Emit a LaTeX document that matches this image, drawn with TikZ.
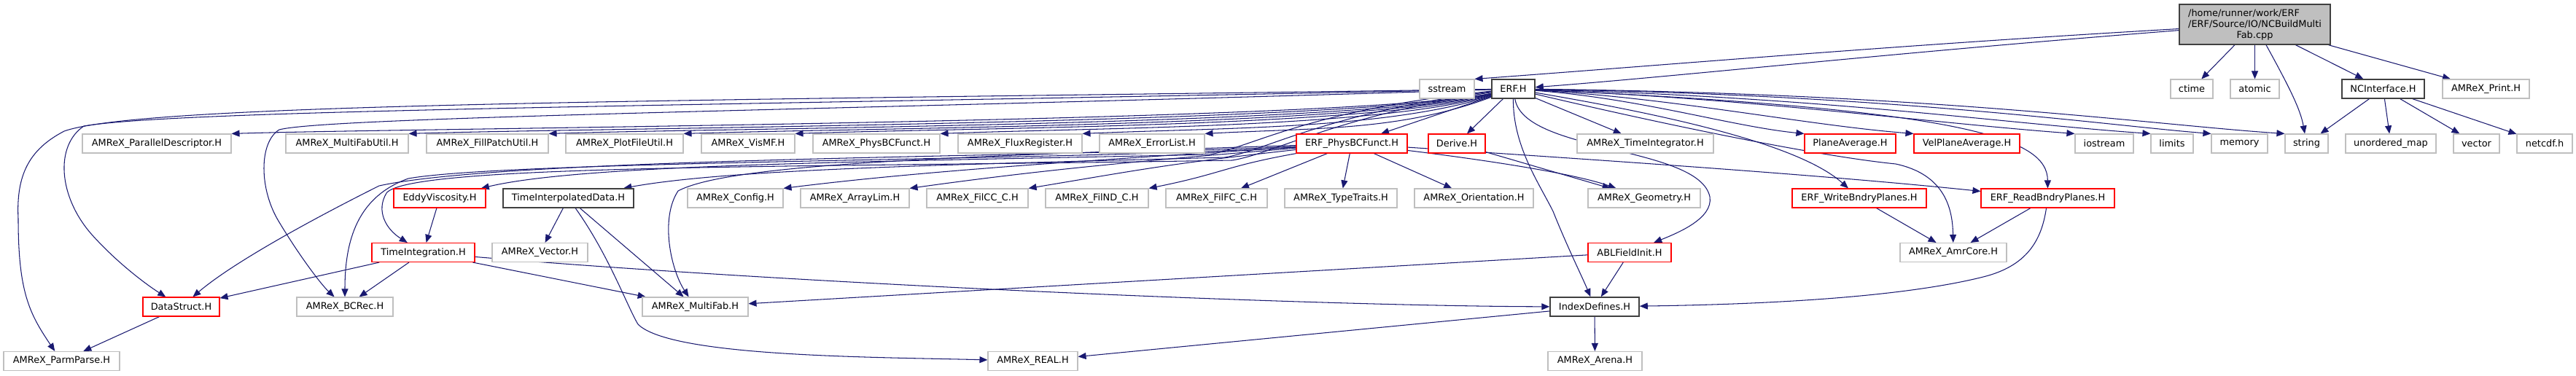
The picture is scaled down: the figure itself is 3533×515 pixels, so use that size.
\documentclass[tikz,border=0pt]{standalone}
\usepackage{fontspec}
\newfontfamily\dvs{DejaVu Sans}
\usetikzlibrary{arrows.meta}
\definecolor{edgeblue}{HTML}{191970}
\definecolor{boxgray}{HTML}{BFBFBF}
\definecolor{boxblack}{HTML}{404040}
\definecolor{boxred}{HTML}{FF0000}
\definecolor{mainfill}{HTML}{BFBFBF}
\newcommand\nodefont{\dvs\fontsize{12.9pt}{15pt}\selectfont}
\pgfdeclarelayer{bg}
\pgfsetlayers{bg,main}
\tikzset{
  box/.style={draw=boxgray, line width=1.1pt, fill=white, minimum height=26pt, inner sep=0pt, font=\nodefont},
  ext/.style={box},
  redbox/.style={box, draw=boxred, line width=1.1pt},
  blk/.style={box, draw=boxblack, line width=1.5pt},
  edge/.style={draw=edgeblue, line width=1.05pt, -{Triangle[length=11pt,width=9pt,fill=edgeblue]}}
}
\begin{document}
\begin{tikzpicture}[x=1pt,y=-1pt]
\useasboundingbox (0,0) rectangle (3533,515);
% ---------- row 0
\node[blk, fill=mainfill, minimum width=207pt, minimum height=55pt, align=center] (main) at (3092.5,33.5)
  {\begin{tabular}{@{}l@{}}/home/runner/work/ERF\\/ERF/Source/IO/NCBuildMulti\end{tabular}\\Fab.cpp};
% ---------- row 1
\node[ext, minimum width=75pt]  (sstream) at (1984.5,122) {sstream};
\node[blk, minimum width=59pt]  (erf)     at (2075.5,122) {ERF.H};
\node[ext, minimum width=58pt]  (ctime)   at (3006,122) {ctime};
\node[ext, minimum width=67pt]  (atomic)  at (3092.5,122) {atomic};
\node[blk, minimum width=113pt] (nci)     at (3268.5,122) {NCInterface.H};
\node[ext, minimum width=119pt] (print)   at (3409.5,122) {AMReX\_Print.H};
% ---------- row 2
\node[ext, minimum width=204pt] (pd)     at (215,197) {AMReX\_ParallelDescriptor.H};
\node[ext, minimum width=168pt] (mfu)    at (476,197) {AMReX\_MultiFabUtil.H};
\node[ext, minimum width=167pt] (fpu)    at (668.5,197) {AMReX\_FillPatchUtil.H};
\node[ext, minimum width=161pt] (pfu)    at (856.5,197) {AMReX\_PlotFileUtil.H};
\node[ext, minimum width=128pt] (vismf)  at (1026,197) {AMReX\_VisMF.H};
\node[ext, minimum width=174pt] (pbcf)   at (1202,197) {AMReX\_PhysBCFunct.H};
\node[ext, minimum width=170pt] (flux)   at (1399,197) {AMReX\_FluxRegister.H};
\node[ext, minimum width=144pt] (errl)   at (1580,197) {AMReX\_ErrorList.H};
\node[redbox, minimum width=152pt] (erfpbc) at (1854,197) {ERF\_PhysBCFunct.H};
\node[redbox, minimum width=78pt]  (derive) at (1998,197) {Derive.H};
\node[ext, minimum width=187pt] (ti)     at (2256.5,197) {AMReX\_TimeIntegrator.H};
\node[redbox, minimum width=125pt] (pavg)   at (2537.5,197) {PlaneAverage.H};
\node[redbox, minimum width=145pt] (vpavg)  at (2697.5,197) {VelPlaneAverage.H};
\node[ext, minimum width=80pt]  (iostream) at (2886,197) {iostream};
\node[ext, minimum width=58pt]  (limits)   at (2979,197) {limits};
\node[ext, minimum width=77pt]  (memory)   at (3071.5,197) {memory};
\node[ext, minimum width=59pt]  (string)   at (3163.5,197) {string};
\node[ext, minimum width=124pt] (umap)     at (3279,197) {unordered\_map};
\node[ext, minimum width=63pt]  (vector)   at (3396.5,197) {vector};
\node[ext, minimum width=76pt]  (netcdf)   at (3490,197) {netcdf.h};
% ---------- row 3
\node[redbox, minimum width=126pt] (eddy) at (603,272) {EddyViscosity.H};
\node[blk, minimum width=179pt] (tid)     at (779.5,272) {TimeInterpolatedData.H};
\node[ext, minimum width=131pt] (config)  at (1008.5,272) {AMReX\_Config.H};
\node[ext, minimum width=149pt] (arraylim) at (1172.5,272) {AMReX\_ArrayLim.H};
\node[ext, minimum width=139pt] (filcc)   at (1340.5,272) {AMReX\_FilCC\_C.H};
\node[ext, minimum width=141pt] (filnd)   at (1504.5,272) {AMReX\_FilND\_C.H};
\node[ext, minimum width=139pt] (filfc)   at (1668.5,272) {AMReX\_FilFC\_C.H};
\node[ext, minimum width=154pt] (tt)      at (1839,272) {AMReX\_TypeTraits.H};
\node[ext, minimum width=163pt] (orient)  at (2021.5,272) {AMReX\_Orientation.H};
\node[ext, minimum width=154pt] (geom)    at (2255,272) {AMReX\_Geometry.H};
\node[redbox, minimum width=184pt] (wbp)  at (2550,272) {ERF\_WriteBndryPlanes.H};
\node[redbox, minimum width=183pt] (rbp)  at (2808.5,272) {ERF\_ReadBndryPlanes.H};
% ---------- row 4
\node[redbox, minimum width=141pt] (tint) at (580.5,346.5) {TimeIntegration.H};
\node[ext, minimum width=131pt] (vec)     at (740.5,346.5) {AMReX\_Vector.H};
\node[redbox, minimum width=114pt] (abl)  at (2235,346.5) {ABLFieldInit.H};
\node[ext, minimum width=146pt] (amrcore) at (2679,346.5) {AMReX\_AmrCore.H};
% ---------- row 5
\node[redbox, minimum width=105pt] (ds)  at (248.5,421) {DataStruct.H};
\node[ext, minimum width=132pt] (bcrec)  at (473,421) {AMReX\_BCRec.H};
\node[ext, minimum width=145pt] (mf)     at (953.5,421) {AMReX\_MultiFab.H};
\node[blk, minimum width=122pt] (idx)    at (2187,421) {IndexDefines.H};
% ---------- row 6
\node[ext, minimum width=159pt] (pp)    at (84.5,495.5) {AMReX\_ParmParse.H};
\node[ext, minimum width=123pt] (real)  at (1416.5,495.5) {AMReX\_REAL.H};
\node[ext, minimum width=129pt] (arena) at (2187.5,495.5) {AMReX\_Arena.H};

% ================= edges
\begin{pgfonlayer}{bg}
% main file
\draw[edge] (main) .. controls (2600,62) and (2300,88) .. (sstream.north east);
\draw[edge] (main) .. controls (2600,72) and (2300,105) .. (erf);
\draw[edge] (main) -- (ctime);
\draw[edge] (main) -- (atomic);
\draw[edge] (main) .. controls (3140,120) and (3155,150) .. (string);
\draw[edge] (main) -- (nci);
\draw[edge] (main) -- (print);
% NCInterface
\draw[edge] (nci) -- (string);
\draw[edge] (nci) -- (umap);
\draw[edge] (nci) -- (vector);
\draw[edge] (nci) -- (netcdf);
% ERF.H to the left row
\draw[edge] (erf) .. controls (1850,168) and +(250,-8) .. (pd.north east);
\draw[edge] (erf) .. controls (1850,170) and +(250,-8) .. (mfu.north east);
\draw[edge] (erf) .. controls (1860,172) and +(250,-8) .. (fpu.north east);
\draw[edge] (erf) .. controls (1870,173) and +(250,-8) .. (pfu.north east);
\draw[edge] (erf) .. controls (1880,175) and +(220,-8) .. (vismf.north east);
\draw[edge] (erf) .. controls (1890,176) and +(200,-8) .. (pbcf.north east);
\draw[edge] (erf) .. controls (1900,178) and +(180,-8) .. (flux.north east);
\draw[edge] (erf) .. controls (1920,180) and +(150,-8) .. (errl.north east);
\draw[edge] (erf) -- (erfpbc);
\draw[edge] (erf) -- (derive);
\draw[edge] (erf) -- (ti);
% ERF.H to the right row
\draw[edge] (erf) .. controls (2250,135) and +(-100,-10) .. (pavg.north west);
\draw[edge] (erf) .. controls (2300,135) and +(-150,-12) .. (vpavg.north west);
\draw[edge] (erf) .. controls (2400,135) and +(-200,-15) .. (iostream.north west);
\draw[edge] (erf) .. controls (2500,133) and +(-200,-14) .. (limits.north west);
\draw[edge] (erf) .. controls (2600,130) and +(-150,-12) .. (memory.north west);
\draw[edge] (erf) .. controls (2650,128) and +(-180,-12) .. (string.north west);
% ERF.H long loops on the left
\draw[edge] (erf) .. controls (1000,138) and (200,140) .. (88,180)
   .. controls (40,205) and (22,240) .. (25,300) .. controls (25,400) and (40,430) .. (pp);
\draw[edge] (erf) .. controls (1000,145) and (250,150) .. (115,173)
   .. controls (75,200) and (80,270) .. (126,322) .. controls (160,360) and (200,390) .. (ds);
\draw[edge] (erf) .. controls (1200,150) and (450,160) .. (383,178)
   .. controls (355,195) and (355,260) .. (383,305) .. controls (410,350) and (440,390) .. (bcrec);
% ERF.H to lower left
\draw[edge] (erf) .. controls (1800,150) and (1720,200) .. (1660,212)
   .. controls (1200,222) and (800,225) .. (eddy);
\draw[edge] (erf) .. controls (1820,155) and (1740,205) .. (1680,216)
   .. controls (1300,226) and (1000,232) .. (tid);
\draw[edge] (erf) .. controls (1830,160) and (1750,210) .. (1690,220)
   .. controls (1100,230) and (560,225) .. (530,265) .. controls (515,290) and (530,315) .. (tint);
% ERF.H to lower right
\draw[edge] (erf) .. controls (2300,160) and (2470,200) .. (wbp);
\draw[edge] (erf) .. controls (2700,150) and (2808,190) .. (rbp);
\draw[edge] (erf) .. controls (2300,175) and (2500,215) .. (2600,225)
   .. controls (2670,240) and (2678,290) .. (amrcore);
\draw[edge] (erf) .. controls (2090,210) and (2330,200) .. (2345,270)
   .. controls (2350,300) and (2300,320) .. (abl);
\draw[edge] (erf) .. controls (2075,200) and (2110,250) .. (2130,290)
   .. controls (2150,340) and (2170,380) .. (idx);
% ERF_PhysBCFunct
\draw[edge] (erfpbc) .. controls (1500,215) and (700,215) .. (520,255)
   .. controls (430,300) and (320,360) .. (ds);
\draw[edge] (erfpbc) .. controls (1500,220) and (700,220) .. (560,245)
   .. controls (490,270) and (473,330) .. (bcrec);
\draw[edge] (erfpbc) .. controls (1300,215) and (1000,225) .. (930,262)
   .. controls (905,300) and (920,370) .. (mf);
\draw[edge] (erfpbc) .. controls (1500,220) and +(200,-25) .. (config.north east);
\draw[edge] (erfpbc) .. controls (1550,222) and +(180,-25) .. (arraylim.north east);
\draw[edge] (erfpbc) .. controls (1600,225) and +(150,-25) .. (filcc.north east);
\draw[edge] (erfpbc) .. controls (1680,228) and +(100,-20) .. (filnd.north east);
\draw[edge] (erfpbc) -- (filfc);
\draw[edge] (erfpbc) -- (tt);
\draw[edge] (erfpbc) -- (orient);
\draw[edge] (erfpbc) .. controls (2000,215) and (2150,235) .. (geom);
\draw[edge] (erfpbc) .. controls (2200,220) and (2500,240) .. (rbp);
% Derive
\draw[edge] (derive) -- (geom);
% lower nodes
\draw[edge] (eddy) -- (tint);
\draw[edge] (tint) -- (ds);
\draw[edge] (tint) -- (bcrec);
\draw[edge] (tint) -- (mf);
\draw[edge] (tint) .. controls (1100,390) and (1800,420) .. (idx);
\draw[edge] (tid) -- (vec);
\draw[edge] (tid) -- (mf);
\draw[edge] (tid) .. controls (835,350) and (860,420) .. (875,445)
   .. controls (920,490) and (1200,490) .. (real);
\draw[edge] (ds) -- (pp);
\draw[edge] (abl) -- (idx);
\draw[edge] (abl) -- (mf);
\draw[edge] (wbp) -- (amrcore);
\draw[edge] (rbp) -- (amrcore);
\draw[edge] (rbp) .. controls (2800,330) and (2780,365) .. (2720,380)
   .. controls (2600,410) and (2400,418) .. (idx);
\draw[edge] (idx) -- (real);
\draw[edge] (idx) -- (arena);
\end{pgfonlayer}
\end{tikzpicture}
\end{document}
